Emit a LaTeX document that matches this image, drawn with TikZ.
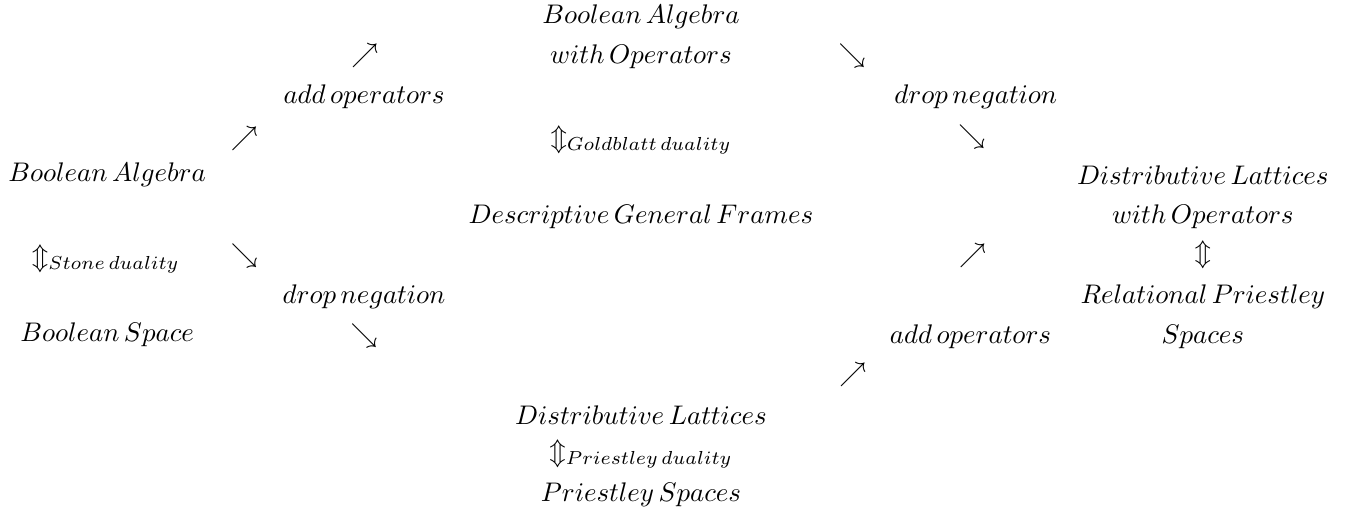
\documentclass[tikz,border=0pt]{standalone}
\usepackage{amsmath, amssymb}
\usepackage{tikz}

\begin{document}
\begin{tikzpicture}[every node/.style={inner sep=0pt, scale=1.15}]
			\useasboundingbox (0,0) rectangle (20.22,7.66);
			% left column
			\node (ba) at (1.61,5.03) {$Boolean\,Algebra$};
			\node (stone) at (1.59,3.76) {$\Updownarrow_{Stone\,duality}$};
			\node (bs) at (1.61,2.63) {$Boolean\,Space$};
			% upper path
			\node (ne1) at (3.67,5.58) {$\nearrow$};
			\node (addop1) at (5.47,6.20) {$add\,operators$};
			\node (ne2) at (5.48,6.82) {$\nearrow$};
			\node (bao) at (9.63,7.41) {$Boolean\,Algebra$};
			\node (baob) at (9.63,6.80) {$with\,Operators$};
			\node (gold) at (9.63,5.56) {$\Updownarrow_{Goldblatt\,duality}$};
			\node (dgf) at (9.63,4.40) {$Descriptive\,General\,Frames$};
			\node (se3) at (12.80,6.82) {$\searrow$};
			\node (drop2) at (14.66,6.20) {$drop\,negation$};
			\node (se4) at (14.60,5.60) {$\searrow$};
			% lower path
			\node (se1) at (3.67,3.82) {$\searrow$};
			\node (drop1) at (5.47,3.20) {$drop\,negation$};
			\node (se2) at (5.47,2.61) {$\searrow$};
			\node (dl) at (9.63,1.43) {$Distributive\,Lattices$};
			\node (pri) at (9.63,0.83) {$\Updownarrow_{Priestley\,duality}$};
			\node (ps) at (9.63,0.23) {$Priestley\,Spaces$};
			\node (ne4) at (12.81,2.03) {$\nearrow$};
			\node (addop2) at (14.58,2.60) {$add\,operators$};
			\node (ne3) at (14.61,3.82) {$\nearrow$};
			% right column
			\node (dlo) at (18.07,5.03) {$Distributive\,Lattices$};
			\node (dlob) at (18.07,4.40) {$with\,Operators$};
			\node (ud) at (18.07,3.83) {$\Updownarrow$};
			\node (rps) at (18.07,3.20) {$Relational\,Priestley$};
			\node (rpsb) at (18.07,2.60) {$Spaces$};
		\end{tikzpicture}
\end{document}
